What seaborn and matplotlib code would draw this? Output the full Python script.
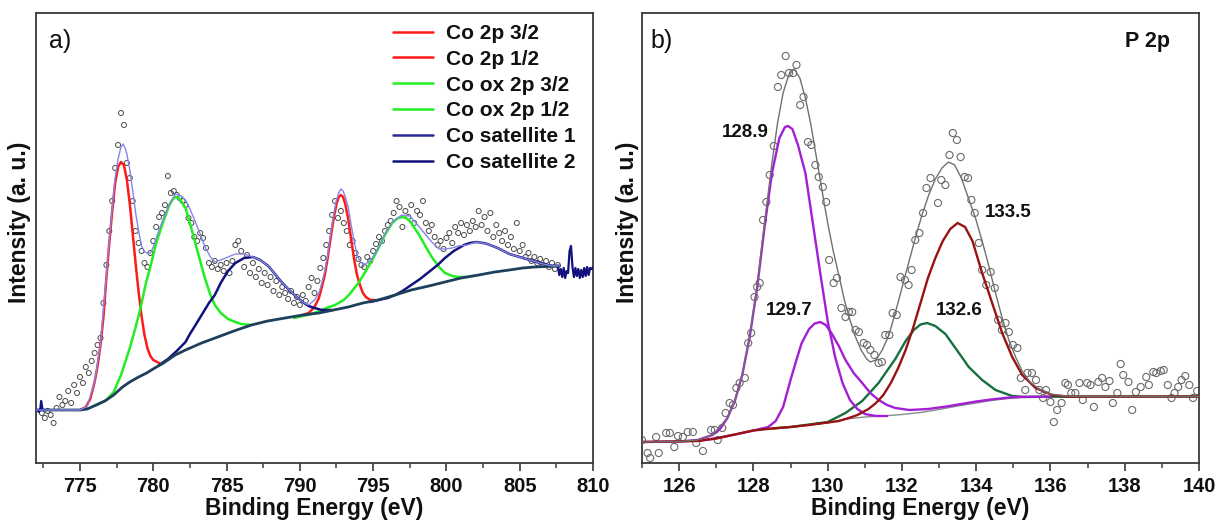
import numpy as np
import matplotlib
matplotlib.use("Agg")
import matplotlib.pyplot as plt
import seaborn as sns
from matplotlib.ticker import MultipleLocator

# ---------------- panel a) Co 2p ----------------
co_scan_start = 772.4
co_scan_step = 0.2
co_counts = [50, 45, 52,
             48, 40, 55, 66, 58,
             62, 72, 60, 78, 70,
             86, 80, 96, 90, 102,
             110, 118, 125, 160, 198,
             232, 262, 295, 318, 350,
             338, 300, 285, 262, 232,
             220, 212, 200, 196, 210,
             222, 236, 246, 250, 258,
             287, 270, 272, 268, 265,
             262, 258, 245, 240, 226,
             222, 230, 225, 215, 200,
             196, 202, 194, 198, 192,
             200, 190, 202, 218, 222,
             212, 196, 208, 190, 200,
             186, 194, 180, 190, 178,
             186, 172, 182, 168, 176,
             170, 164, 172, 160, 166,
             158, 168, 162, 176, 185,
             170, 182, 195, 205, 218,
             232, 248, 262, 245, 252,
             240, 232, 218, 222, 210,
             204, 198, 196, 206, 202,
             212, 219, 226, 222, 232,
             238, 242, 250, 262, 256,
             236, 252, 246, 258, 240,
             252, 248, 262, 240, 232,
             238, 226, 218, 222, 214,
             225, 230, 220, 236, 230,
             240, 228, 238, 232, 242,
             236, 252, 238, 246, 232,
             250, 226, 238, 230, 222,
             232, 218, 226, 214, 240,
             212, 218, 206, 210, 202,
             206, 200, 204, 198, 202,
             196, 200, 194, 198]

co_raw_left_E = [772.0, 772.1, 772.2, 772.3, 772.35, 772.45, 772.6]
co_raw_left_I = [52, 53, 51, 55, 62, 53, 53]
co_raw_right_E = [807.6, 807.7, 807.8, 807.9, 808.0, 808.1, 808.2, 808.3, 808.4, 808.5,
                  808.6, 808.7, 808.8, 808.9, 809.0, 809.1, 809.2, 809.3, 809.4, 809.5,
                  809.6, 809.7, 809.8, 809.9, 810.0]
co_raw_right_I = [197, 188, 194, 186, 195, 185, 192, 190, 212, 217,
                  196, 186, 195, 187, 194, 185, 193, 186, 195, 187,
                  196, 188, 195, 194, 196]

co_bg_E = [772.0, 775.0, 775.5, 776.1, 776.7, 777.3, 777.9, 778.4, 779.0, 779.55, 780.1,
           780.7, 781.5, 782.2, 783.3, 784.4, 785.5, 786.7, 787.8, 789.0, 790.2, 791.3,
           792.3, 793.3, 794.3, 795.35, 796.5, 797.6, 798.8, 799.9, 801.0, 802.2, 803.3,
           804.3, 805.2, 806.0, 807.7]
co_bg_I = [53, 53, 54, 58, 62, 68, 76, 81, 86, 90, 95,
           100, 108, 113, 120, 126, 132, 138, 142, 145, 148, 150,
           153, 156, 160, 163, 168, 173, 177, 181, 185, 188, 191,
           193, 195, 196, 197]

co_32_E = [775.0, 775.4, 775.7, 776.0, 776.2, 776.4, 776.6, 776.8, 777.0, 777.2, 777.4,
           777.6, 777.8, 778.0, 778.2, 778.4, 778.6, 778.8, 779.0, 779.2, 779.4, 779.6,
           779.8, 780.0, 780.4]
co_32_I = [53, 56, 64, 81, 97, 118, 146, 185, 220, 252, 280,
           296, 301, 298, 283, 259, 229, 199, 171, 147, 128, 115,
           107, 103, 100]

co_12_E = [790.2, 790.6, 791.0, 791.3, 791.5, 791.7, 791.9, 792.1, 792.3, 792.5, 792.65,
           792.8, 792.95, 793.1, 793.3, 793.5, 793.7, 793.9, 794.1, 794.3, 794.5, 794.8,
           795.1]
co_12_I = [148, 150, 156, 165, 176, 188, 205, 225, 244, 259, 266,
           268, 266, 259, 244, 224, 204, 188, 178, 170, 166, 163,
           163]

coox_32_E = [776.0, 776.8, 777.3, 777.8, 778.4, 778.8, 779.1, 779.5, 779.8, 780.2, 780.7,
             781.1, 781.3, 781.5, 781.7, 781.9, 782.2, 782.5, 782.85, 783.2, 783.5, 783.9,
             784.2, 784.6, 785.1, 785.6, 786.0, 786.7]
coox_32_I = [57, 63, 71, 88, 115, 136, 153, 180, 196, 220, 242,
             258, 263, 266, 265.5, 262, 255, 240, 221, 202, 186, 168,
             158, 150, 144, 141, 139, 138]

coox_12_E = [789.6, 790.5, 791.2, 791.8, 792.4, 793.0, 793.4, 794.0, 794.5, 794.9, 795.4,
             795.8, 796.3, 796.65, 796.95, 797.25, 797.5, 798.1, 798.6, 799.0, 799.5, 799.9,
             800.4, 800.8, 801.4, 801.8]
coox_12_I = [145, 148, 151, 155, 158, 163, 169, 180, 192, 202, 216,
             228, 240, 244.5, 246, 245, 242, 229, 216, 206, 196, 190,
             187, 186, 186, 187]

cosat1_E = [780.4, 781.0, 781.6, 782.2, 782.5, 782.8, 783.3, 783.8, 784.2, 784.6, 785.1,
            785.6, 786.2, 786.8, 787.3, 787.85, 788.3, 788.75, 789.2, 789.7, 790.2, 790.6,
            791.0, 791.5, 792.2]
cosat1_I = [98, 104, 112, 121, 129, 136, 148, 160, 168, 180, 192,
            200, 205, 206, 203, 197, 189, 181, 174, 167, 161, 157,
            155, 153, 153]

cosat2_E = [794.8, 795.35, 796.0, 796.5, 797.0, 797.6, 798.2, 798.8, 799.4, 799.9, 800.5,
            801.2, 801.6, 802.05, 802.5, 802.8, 803.5, 804.3, 805.0, 805.9, 806.6, 807.3,
            807.7]
cosat2_I = [161, 163, 165, 168, 172, 178, 184, 191, 198, 205, 212,
            218, 220, 221, 220, 219, 215, 209, 206, 202, 199, 197,
            197]

co_env_E = [772.0, 775.0, 775.5, 776.0, 776.4, 776.8, 777.0, 777.2, 777.4, 777.6, 777.8,
            777.95, 778.1, 778.2, 778.4, 778.6, 778.8, 779.0, 779.2, 779.4, 779.6, 779.8,
            780.0, 780.2, 780.7, 781.1, 781.5, 781.9, 782.2, 782.5, 782.85, 783.2, 783.5,
            783.9, 784.2, 784.6, 785.1, 785.6, 786.2, 786.8, 787.3, 787.85, 788.3, 788.75,
            789.2, 789.7, 790.2, 790.6, 791.0, 791.3, 791.5, 791.7, 791.9, 792.1, 792.3,
            792.5, 792.65, 792.8, 792.95, 793.1, 793.3, 793.5, 793.7, 793.9, 794.1, 794.3,
            794.5, 794.9, 795.4, 795.8, 796.3, 796.95, 797.5, 798.1, 798.6, 799.0, 799.5,
            799.9, 800.4, 800.8, 801.4, 802.05, 802.8, 803.5, 804.3, 805.0, 805.9, 806.6,
            807.3, 807.7]
co_env_I = [53, 53, 57, 81, 119, 187, 222, 255, 285, 304, 316,
            319, 314, 309, 293, 272, 250, 232, 217, 211, 210, 210,
            216, 225, 245, 259, 269, 267, 263, 254, 242, 229, 217,
            206, 201, 203, 206, 209, 209, 206, 203, 197, 189, 181,
            174, 167, 161, 158, 163, 170, 180, 192, 208, 229, 248,
            263, 270, 274, 272, 266, 256, 238, 222, 208, 202, 199,
            199, 204, 216, 229, 241, 248, 247, 237, 228, 221, 214,
            214, 215, 217, 218, 221, 219, 215, 209, 206, 202, 199,
            197, 197]

co_labels = ["Co 2p 3/2", "Co 2p 1/2", "Co ox 2p 3/2", "Co ox 2p 1/2",
             "Co satellite 1", "Co satellite 2"]
co_ticks = [775, 780, 785, 790, 795, 800, 805, 810]

# ---------------- panel b) P 2p ----------------
p_pts_E = [125.00, 125.15, 125.22, 125.38, 125.45, 125.65, 125.75, 125.87, 125.97, 126.10,
           126.23, 126.37, 126.46, 126.64, 126.86, 126.96, 127.04, 127.16, 127.25, 127.36,
           127.45, 127.54, 127.63, 127.77, 127.86, 127.94, 128.03, 128.10, 128.17, 128.26,
           128.35, 128.44, 128.55, 128.66, 128.75, 128.87, 128.96, 129.07, 129.16, 129.26,
           129.35, 129.47, 129.56, 129.67, 129.76, 129.87, 129.96, 130.04, 130.16, 130.25,
           130.37, 130.48, 130.57, 130.66, 130.75, 130.84, 130.97, 131.06, 131.15, 131.26,
           131.37, 131.46, 131.55, 131.66, 131.75, 131.86, 131.96, 132.08, 132.18, 132.26,
           132.36, 132.47, 132.57, 132.66, 132.77, 132.97, 133.06, 133.17, 133.28, 133.37,
           133.48, 133.58, 133.69, 133.78, 133.87, 133.96, 134.07, 134.16, 134.27, 134.39,
           134.50, 134.59, 134.69, 134.79, 134.88, 134.99, 135.11, 135.20, 135.32, 135.38,
           135.50, 135.61, 135.70, 135.80, 135.88, 136.00, 136.09, 136.18, 136.30, 136.40,
           136.47, 136.56, 136.67, 136.78, 136.87, 136.99, 137.08, 137.17, 137.29, 137.39,
           137.48, 137.59, 137.68, 137.80, 137.89, 137.96, 138.10, 138.20, 138.30, 138.43,
           138.58, 138.65, 138.77, 138.85, 138.97, 139.05, 139.16, 139.26, 139.34, 139.44,
           139.53, 139.63, 139.74, 139.84, 139.95]
p_pts_I = [23, 10, 5, 26, 10, 30, 30, 16, 27, 26,
           31, 31, 20, 12, 33, 33, 23, 35, 50, 60,
           58, 75, 80, 85, 120, 130, 166, 176, 180, 243,
           261, 288, 317, 376, 388, 407, 390, 390, 398, 358,
           366, 321, 318, 298, 286, 276, 261, 203, 180, 185,
           155, 146, 151, 151, 133, 131, 120, 118, 113, 108,
           100, 101, 128, 128, 150, 148, 186, 183, 178, 193,
           223, 230, 250, 275, 285, 260, 283, 278, 308, 330,
           323, 306, 286, 285, 263, 250, 220, 193, 178, 191,
           175, 143, 133, 140, 131, 118, 115, 85, 73, 90,
           90, 83, 73, 65, 73, 61, 41, 53, 60, 80,
           78, 70, 70, 80, 63, 80, 78, 56, 81, 85,
           76, 82, 60, 70, 99, 88, 81, 53, 71, 76,
           86, 78, 91, 90, 92, 93, 78, 65, 70, 76,
           83, 87, 78, 65, 72]

p_bg_E = [125.0, 126.0, 126.5, 126.9, 127.3, 127.7, 128.1, 128.5, 129.0, 129.5, 130.0,
          130.5, 131.0, 131.5, 132.0, 132.5, 133.0, 133.5, 134.0, 134.5, 135.0, 135.5,
          136.0, 140.0]
p_bg_I = [21, 21, 22, 24, 27, 30, 33, 34.5, 36, 38, 40,
          44, 46, 47, 48.5, 50.5, 53.5, 57, 60, 63, 65, 66,
          66.3, 66.5]

p_1289_E = [125.0, 126.0, 126.5, 126.9, 127.1, 127.3, 127.5, 127.7, 127.9, 128.1, 128.3,
            128.5, 128.7, 128.85, 128.93, 129.05, 129.2, 129.4, 129.6, 129.8, 130.0, 130.2,
            130.4, 130.6, 130.8, 131.0, 131.3, 131.6]
p_1289_I = [21, 21.5, 23, 28, 34, 45, 62, 88, 126, 175, 236,
            290, 325, 336, 337, 334, 318, 290, 240, 190, 142, 106,
            80, 63, 54, 49, 47, 47]

p_1297_E = [126.5, 127.0, 127.5, 128.0, 128.4, 128.6, 128.8, 129.0, 129.15, 129.3, 129.5,
            129.65, 129.8, 129.95, 130.1, 130.3, 130.48, 130.7, 130.93, 131.15, 131.37, 131.6,
            131.82, 132.2, 132.7, 133.2, 133.6, 134.0, 134.4, 134.9, 135.3, 136.0]
p_1297_I = [22, 24.8, 28.5, 32.5, 36, 42, 56, 83, 102, 120, 134,
            139.5, 141, 138, 130, 117, 103, 90, 80, 70, 63, 58,
            55, 53, 54, 56.5, 59, 61.5, 63.5, 65.5, 66.2, 66.4]

p_1326_E = [128.5, 129.0, 129.5, 130.0, 130.48, 130.93, 131.37, 131.82, 132.1, 132.32, 132.5,
            132.68, 132.9, 133.17, 133.44, 133.8, 134.16, 134.52, 134.97, 135.3, 136.0, 140.0]
p_1326_I = [34.5, 36, 38.5, 41, 50, 62, 80, 104, 122, 133, 138.5,
            140, 137, 129, 115, 96, 83, 73, 67, 66, 66.3, 66.5]

p_1335_E = [125.0, 126.5, 127.0, 127.5, 128.0, 128.5, 129.0, 129.5, 130.0, 130.3, 130.57,
            130.8, 131.1, 131.3, 131.5, 131.7, 131.9, 132.1, 132.3, 132.5, 132.7, 132.9,
            133.1, 133.3, 133.5, 133.7, 133.9, 134.16, 134.43, 134.7, 134.97, 135.24, 135.6,
            136.05, 136.5, 140.0]
p_1335_I = [21, 22, 24.5, 28.5, 32.5, 34.5, 36, 38, 40.5, 42, 45,
            48, 54, 60, 68, 80, 95, 113, 135, 160, 185, 205,
            222, 234, 240, 236, 222, 190, 160, 130, 106, 88, 75,
            68, 66.4, 66.5]

p_env_E = [125.0, 126.0, 126.5, 126.9, 127.3, 127.5, 127.7, 127.9, 128.1, 128.3, 128.5,
           128.65, 128.8, 128.95, 129.1, 129.25, 129.4, 129.55, 129.7, 129.85, 130.0, 130.15,
           130.3, 130.45, 130.6, 130.75, 130.9, 131.05, 131.15, 131.3, 131.47, 131.65, 131.82,
           132.0, 132.18, 132.36, 132.54, 132.72, 132.9, 133.08, 133.25, 133.42, 133.6, 133.78,
           133.98, 134.16, 134.34, 134.52, 134.7, 134.88, 135.06, 135.24, 135.45, 135.7, 136.0,
           136.4, 137.0, 140.0]
p_env_I = [21, 21.5, 23, 28, 45, 62, 88, 127, 177, 240, 300,
           340, 370, 388, 394, 385, 365, 338, 305, 272, 240, 212,
           188, 163, 143, 126, 113, 104, 101, 103, 113, 128, 150,
           175, 200, 225, 248, 268, 284, 295, 301, 298, 285, 266,
           245, 222, 197, 170, 145, 123, 106, 92, 81, 74, 69,
           67, 66.5, 66.5]

p_peak_labels = ["128.9", "129.7", "132.6", "133.5"]
p_peak_label_E = [127.78, 128.97, 133.55, 134.85]
p_peak_label_I = [326, 148, 148, 246]
p_ticks = [126, 128, 130, 132, 134, 136, 138, 140]

# ---------------- style ----------------
sns.set_theme(style="white")
plt.rcParams["font.family"] = ["Liberation Sans", "DejaVu Sans"]

W, H = 1218, 527
fig = plt.figure(figsize=(W / 100, H / 100), dpi=100)
axL = fig.add_axes([36 / W, (H - 463) / H, 557 / W, 450 / H])
axR = fig.add_axes([642 / W, (H - 463) / H, 557 / W, 450 / H])

RED = "#ff1a1a"
GREEN = "#22ee22"
NAVY = "#12127e"
NAVY1 = "#2a2a96"
BG_L = "#1f405c"
ENV_L = "#8585e6"


def line(ax, x, y, color, lw, z, label=None):
    sns.lineplot(x=x, y=y, ax=ax, color=color, linewidth=lw, sort=False,
                 estimator=None, zorder=z, label=label, legend=False)


# panel a
co_E = np.round(co_scan_start + co_scan_step * np.arange(len(co_counts)), 2)
sns.scatterplot(x=co_E, y=co_counts, ax=axL, s=13, marker="o", facecolor="none",
                edgecolor="#4a4a4a", linewidth=0.7, zorder=1)
line(axL, co_32_E, co_32_I, RED, 1.8, 3, co_labels[0])
line(axL, co_12_E, co_12_I, RED, 1.8, 3, co_labels[1])
line(axL, coox_32_E, coox_32_I, GREEN, 1.8, 3, co_labels[2])
line(axL, coox_12_E, coox_12_I, GREEN, 1.8, 3, co_labels[3])
line(axL, cosat1_E, cosat1_I, NAVY, 1.8, 3, co_labels[4])
line(axL, cosat2_E, cosat2_I, NAVY, 1.8, 3, co_labels[5])
line(axL, co_bg_E, co_bg_I, BG_L, 2.0, 4)
line(axL, co_raw_left_E, co_raw_left_I, NAVY, 1.6, 4)
line(axL, co_raw_right_E, co_raw_right_I, NAVY, 1.6, 4)
line(axL, co_env_E, co_env_I, ENV_L, 1.0, 5)

# panel b
sns.scatterplot(x=p_pts_E, y=p_pts_I, ax=axR, s=26, marker="o", facecolor="none",
                edgecolor="#6a6a6a", linewidth=0.8, zorder=1)
line(axR, p_bg_E, p_bg_I, "#8a8a8a", 1.0, 2)
line(axR, p_1326_E, p_1326_I, "#17703f", 1.7, 3)
line(axR, p_1289_E, p_1289_I, "#a21fd6", 1.7, 3)
line(axR, p_1297_E, p_1297_I, "#a21fd6", 1.7, 3)
line(axR, p_1335_E, p_1335_I, "#9a1212", 1.7, 4)
line(axR, p_env_E, p_env_I, "#707070", 1.0, 5)

for lab, ex, iy in zip(p_peak_labels, p_peak_label_E, p_peak_label_I):
    axR.text(ex, iy, lab, ha="center", va="baseline", fontsize=13.5,
             fontweight="bold", color="#111111")

# legend
handles, labels = axL.get_legend_handles_labels()
legL = axL.legend(handles, labels, loc="upper left", bbox_to_anchor=(0.641, 0.976),
                  frameon=False, borderpad=0, borderaxespad=0, handlelength=1.9,
                  handletextpad=0.65, labelspacing=0.33,
                  prop={"weight": "bold", "size": 15})
for t in legL.get_texts():
    t.set_color("#111111")
legL.legend_handles[4].set_color(NAVY1)

# axes styling
for ax, xlim, ticks, minor, ylx in [(axL, (772, 810), co_ticks, 2.5, -0.0296),
                                     (axR, (125, 140), p_ticks, 1.0, -0.026)]:
    ax.set_xlim(*xlim)
    ax.set_ylim(0, 450)
    ax.set_xticks(ticks)
    ax.xaxis.set_minor_locator(MultipleLocator(minor))
    ax.set_yticks([])
    for sp in ax.spines.values():
        sp.set_color("#3a3a3a")
        sp.set_linewidth(1.3)
    ax.tick_params(axis="x", which="major", direction="out", length=6, width=1.2,
                   color="#3a3a3a", pad=4, labelsize=14.5, bottom=True, top=False)
    ax.tick_params(axis="x", which="minor", direction="out", length=3.5, width=1.1,
                   color="#3a3a3a", bottom=True, top=False)
    for lbl in ax.get_xticklabels():
        lbl.set_fontweight("bold")
        lbl.set_color("#111111")
    ax.set_xlabel("Binding Energy (eV)", fontsize=16.5, fontweight="bold",
                  color="#111111", va="center")
    ax.xaxis.set_label_coords(0.5, -0.102)
    ax.set_ylabel("Intensity (a. u.)", fontsize=16.5, fontweight="bold",
                  color="#111111", va="center", ha="center", rotation_mode="default")
    ax.yaxis.set_label_coords(ylx, 0.535)
    ax.set_facecolor("white")

axL.text(0.043, 0.938, "a)", transform=axL.transAxes, ha="center", va="center",
         fontsize=18, color="#111111")
axR.text(0.036, 0.938, "b)", transform=axR.transAxes, ha="center", va="center",
         fontsize=18, color="#111111")
axR.text(0.908, 0.924, "P 2p", transform=axR.transAxes, ha="center", va="baseline",
         fontsize=15.5, fontweight="bold", color="#111111")

fig.savefig("out.png", dpi=100, facecolor="white")
